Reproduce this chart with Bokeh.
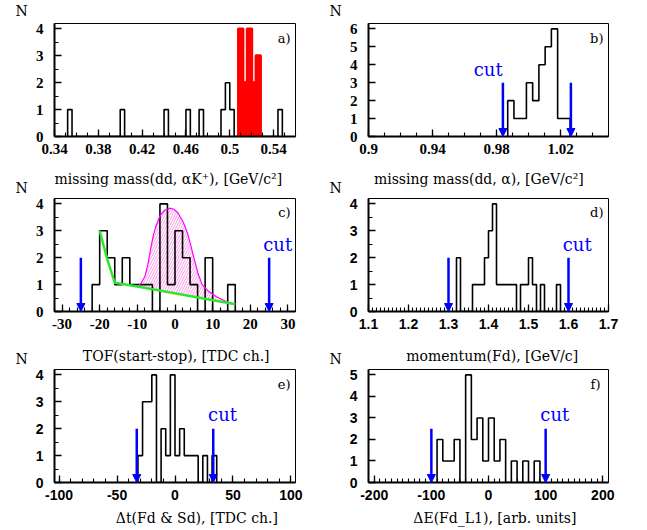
import numpy as np
from bokeh.plotting import figure
from bokeh.layouts import row, column
from bokeh.models import Range1d, FixedTicker, Label, Arrow, NormalHead
from bokeh.embed import file_html
from bokeh.resources import INLINE

# ---------------- data ----------------
# a) missing mass(dd, alpha K+)
a_bin = 0.004
a_left = [0.352, 0.400, 0.440, 0.460, 0.472, 0.492, 0.496, 0.500, 0.544]
a_count = [1, 1, 1, 1, 1, 1, 2, 1, 1]
a_sig_left = [0.508, 0.512, 0.516, 0.520, 0.524]
a_sig_count = [4, 2, 4, 2, 3]
a_xticks = [0.34, 0.38, 0.42, 0.46, 0.50, 0.54]
a_xlabels = ["0.34", "0.38", "0.42", "0.46", "0.5", "0.54"]
a_yticks = [0, 1, 2, 3, 4]

# b) missing mass(dd, alpha)
b_bin = 0.0039
b_left = [0.9870, 0.9909, 0.9948, 0.9987, 1.0026, 1.0065, 1.0104, 1.0143, 1.0182, 1.0221]
b_count = [2, 1, 1, 3, 2, 4, 5, 6, 1, 1]
b_cuts = [0.984, 1.0265]
b_xticks = [0.90, 0.94, 0.98, 1.02]
b_xlabels = ["0.9", "0.94", "0.98", "1.02"]
b_yticks = [0, 1, 2, 3, 4, 5, 6]

# c) TOF(start-stop)
c_bin = 2
c_left = [-22, -20, -18, -16, -14, -12, -10, -8, -6, -4, -2, 0, 2, 4, 6, 8, 10, 12, 14]
c_count = [1, 3, 2, 1, 2, 1, 1, 1, 0, 4, 1, 3, 2, 1, 0, 2, 0, 0, 1]
c_bkg_x = [-20, -18, -16, -10, 16]
c_bkg_y = [3.0, 1.95, 1.07, 0.93, 0.27]
c_sig_x = [-10, -9, -8, -7.2, -6.5, -5.8, -5, -4, -2.8, -1.4, -0.3, 0.8, 2.2, 3.3,
           4.2, 5.1, 6.1, 7.2, 8.8, 11, 13.3, 16]
c_sig_y = [0.93, 1.05, 1.3, 1.75, 2.3, 2.8, 3.2, 3.55, 3.76, 3.84, 3.8, 3.66, 3.32, 2.92,
           2.45, 1.95, 1.42, 1.0, 0.76, 0.55, 0.39, 0.27]
c_cuts = [-25, 25]
c_xticks = [-30, -20, -10, 0, 10, 20, 30]
c_xlabels = ["-30", "-20", "-10", "0", "10", "20", "30"]
c_yticks = [0, 1, 2, 3, 4]

# d) momentum(Fd)
d_bin = 0.01
d_left = [1.32, 1.36, 1.37, 1.38, 1.39, 1.40, 1.41, 1.42, 1.43, 1.44, 1.45, 1.46,
          1.48, 1.49, 1.50, 1.51, 1.53, 1.57]
d_count = [2, 1, 1, 1, 2, 3, 4, 1, 1, 1, 1, 1, 1, 1, 2, 1, 1, 1]
d_cuts = [1.3, 1.6]
d_xticks = [1.1, 1.2, 1.3, 1.4, 1.5, 1.6, 1.7]
d_xlabels = ["1.1", "1.2", "1.3", "1.4", "1.5", "1.6", "1.7"]
d_yticks = [0, 1, 2, 3, 4]

# e) delta t(Fd & Sd)
e_bin = 4
e_left = [-32, -28, -24, -20, -12, -8, -4, 0, 4, 8, 12, 16, 24, 32]
e_count = [1, 3, 3, 4, 2, 1, 4, 1, 2, 1, 1, 1, 1, 1]
e_cuts = [-33, 33]
e_xticks = [-100, -50, 0, 50, 100]
e_xlabels = ["-100", "-50", "0", "50", "100"]
e_yticks = [0, 1, 2, 3, 4]

# f) delta E(Fd_L1)
f_bin = 10
f_left = [-90, -80, -70, -60, -40, -30, -20, -10, 0, 10, 20, 40, 60, 80]
f_count = [2, 1, 1, 2, 5, 2, 3, 1, 3, 1, 2, 1, 1, 1]
f_cuts = [-100, 100]
f_xticks = [-200, -100, 0, 100, 200]
f_xlabels = ["-200", "-100", "0", "100", "200"]
f_yticks = [0, 1, 2, 3, 4, 5]

# ---------------- layout (page pixels) ----------------
NSTRIP_X = [0, 318]          # narrow strips carrying the "N" labels
NSTRIP_W = [30, 27]
COL_X = [30, 345]            # main columns
COL_W = [288, 300]
FR_L = [54, 368]
FR_W = [241, 240]
FR_H = 113
# per row: (figure top y, border top, border bottom), then title strip height
ROWS = [(0, 23, 27), (195, 3, 27), (366, 3, 27)]
TSTRIP_H = [32, 28, 19]
TOTAL_H = 528
BASE_SHIFT = 0.3             # Bokeh draws "alphabetic" text a bit low; compensate

SERIF = "DejaVu Serif"


def step_path(lefts, counts, w):
    xs, ys = [], []
    prev = None
    for l, c in zip(lefts, counts):
        if prev is None or abs(l - prev) > w * 1e-3:
            if prev is not None:
                xs.append(prev); ys.append(0)
            xs.append(l); ys.append(0)
        xs += [l, l + w]
        ys += [c, c]
        prev = l + w
    xs.append(prev); ys.append(0)
    return xs, ys


def make_panel(col, r, xr, yr, xticks, xlabels, xminor, yticks, yminor, tick_font, tick_size):
    y0, bt, bb = ROWS[r]
    bl = FR_L[col] - COL_X[col]
    br = COL_W[col] - bl - FR_W[col]
    p = figure(width=COL_W[col], height=bt + FR_H + bb, title=None,
               x_range=Range1d(*xr), y_range=Range1d(*yr),
               min_border_left=bl, min_border_right=br,
               min_border_top=bt, min_border_bottom=bb,
               toolbar_location=None, tools="", output_backend="svg")
    p.grid.visible = False
    p.outline_line_color = "black"
    p.outline_line_width = 1
    p.background_fill_color = "white"
    p.border_fill_color = "white"
    p.xaxis.ticker = FixedTicker(ticks=xticks, minor_ticks=xminor)
    p.xaxis.major_label_overrides = {t: s for t, s in zip(xticks, xlabels)}
    p.yaxis.ticker = FixedTicker(ticks=yticks, minor_ticks=yminor)
    for ax in (p.xaxis[0], p.yaxis[0]):
        ax.major_tick_in = 7
        ax.major_tick_out = 0
        ax.minor_tick_in = 4
        ax.minor_tick_out = 0
        ax.major_tick_line_width = 1.3
        ax.minor_tick_line_width = 1.1
        ax.axis_line_width = 2
        ax.major_label_text_font = tick_font
        ax.major_label_text_font_style = "bold"
        ax.major_label_text_font_size = tick_size
        ax.major_label_text_color = "black"
    p.xaxis.major_label_standoff = 7
    p.yaxis.major_label_standoff = 11
    geom = (FR_L[col], y0 + bt, FR_W[col], FR_H)
    return p, geom


def text_strip(w, h):
    s = figure(width=w, height=h, title=None,
               x_range=Range1d(0, w), y_range=Range1d(h, 0),
               min_border_left=0, min_border_right=0, min_border_top=0, min_border_bottom=0,
               x_axis_location=None, y_axis_location=None,
               toolbar_location=None, tools="", output_backend="svg")
    s.grid.visible = False
    s.outline_line_color = None
    s.background_fill_color = "white"
    s.border_fill_color = "white"
    return s


def strip_text(s, origin, px, py, text, size, align="left", color="black"):
    py = py - BASE_SHIFT * size
    s.add_layout(Label(x=px - origin[0], y=py - origin[1], text=text, text_font=SERIF,
                       text_font_size=f"{size}px", text_align=align,
                       text_baseline="alphabetic", text_color=color))


def frame_text(p, geom, px, py, text, size, align="left", color="black"):
    L, T, W, H = geom
    py = py - BASE_SHIFT * size
    p.add_layout(Label(x=px - L, y=(T + H) - py, x_units="screen", y_units="screen",
                       text=text, text_font=SERIF,
                       text_font_size=f"{size}px", text_align=align,
                       text_baseline="alphabetic", text_color=color))


def draw_hist(p, lefts, counts, w):
    xs, ys = step_path(lefts, counts, w)
    p.line(xs, ys, line_color="black", line_width=1.6)


def draw_cuts(p, cuts, top):
    for c in cuts:
        p.add_layout(Arrow(end=NormalHead(size=8, fill_color="#0000ff", line_color="#0000ff",
                                          line_width=1),
                           x_start=c, y_start=top, x_end=c, y_end=0,
                           line_color="#0000ff", line_width=2.5))


sans_t = ("Liberation Sans", "14px")
serif_t = ("Liberation Serif", "15px")

# ---- a ----
pa, ga = make_panel(0, 0, (0.34, 0.56), (0, 4.2), a_xticks, a_xlabels,
                    list(np.round(np.arange(0.34, 0.561, 0.01), 3)), a_yticks,
                    list(np.arange(0, 4.21, 0.5)), *serif_t)
draw_hist(pa, a_left, a_count, a_bin)
pa.quad(left=a_sig_left, right=[l + a_bin for l in a_sig_left], bottom=0, top=a_sig_count,
        fill_color="#ff0000", line_color="#ff0000", line_width=3, line_join="round")

# ---- b ----
pb, gb = make_panel(1, 0, (0.9, 1.05), (0, 6.3), b_xticks, b_xlabels,
                    list(np.round(np.arange(0.9, 1.051, 0.01), 3)), b_yticks, [], *serif_t)
draw_hist(pb, b_left, b_count, b_bin)
draw_cuts(pb, b_cuts, 3.0)

# ---- c ----
pc, gc = make_panel(0, 1, (-32, 32), (0, 4.2), c_xticks, c_xlabels,
                    list(np.arange(-32, 32.1, 2)), c_yticks,
                    list(np.arange(0, 4.21, 0.5)), *serif_t)
hx = c_sig_x + [c_bkg_x[-1], c_bkg_x[-2]]
hy = c_sig_y + [c_bkg_y[-1], c_bkg_y[-2]]
pc.patch(hx, hy, fill_color=None, line_color=None, hatch_pattern="/",
         hatch_color="#ff44dd", hatch_scale=5, hatch_weight=0.7, hatch_alpha=0.8)
draw_hist(pc, c_left, c_count, c_bin)
pc.line(c_sig_x, c_sig_y, line_color="#ff00ff", line_width=1.2)
pc.line(c_bkg_x, c_bkg_y, line_color="#2ee62e", line_width=2.5)
draw_cuts(pc, c_cuts, 2.0)

# ---- d ----
pd_, gd = make_panel(1, 1, (1.1, 1.7), (0, 4.2), d_xticks, d_xlabels,
                     list(np.round(np.arange(1.1, 1.701, 0.01), 3)), d_yticks,
                     list(np.arange(0, 4.21, 0.5)), *sans_t)
draw_hist(pd_, d_left, d_count, d_bin)
draw_cuts(pd_, d_cuts, 2.0)

# ---- e ----
pe, ge = make_panel(0, 2, (-104, 104), (0, 4.2), e_xticks, e_xlabels,
                    list(np.arange(-100, 101, 10)), e_yticks,
                    list(np.arange(0, 4.21, 0.5)), *sans_t)
draw_hist(pe, e_left, e_count, e_bin)
draw_cuts(pe, e_cuts, 2.0)

# ---- f ----
pf, gf = make_panel(1, 2, (-210, 210), (0, 5.25), f_xticks, f_xlabels,
                    list(np.arange(-210, 211, 10)), f_yticks, [], *sans_t)
draw_hist(pf, f_left, f_count, f_bin)
draw_cuts(pf, f_cuts, 2.5)

# ---- texts inside frames ----
frame_text(pa, ga, 290, 41.5, "a)", 13, "right")
frame_text(pb, gb, 603, 41.5, "b)", 13, "right")
frame_text(pc, gc, 290, 216, "c)", 13, "right")
frame_text(pd_, gd, 603, 216, "d)", 13, "right")
frame_text(pe, ge, 290, 388, "e)", 13, "right")
frame_text(pf, gf, 600, 388, "f)", 13, "right")

frame_text(pb, gb, 487.7, 74, "cut", 18, "center", "#0000ff")
frame_text(pc, gc, 277.2, 249, "cut", 18, "center", "#0000ff")
frame_text(pd_, gd, 576.7, 249, "cut", 18, "center", "#0000ff")
frame_text(pe, ge, 222, 419, "cut", 18, "center", "#0000ff")
frame_text(pf, gf, 554.3, 419, "cut", 18, "center", "#0000ff")

# ---- "N" strips ----
n_strips = []
for k in range(2):
    s = text_strip(NSTRIP_W[k], TOTAL_H)
    for base in (15, 192, 363):
        strip_text(s, (NSTRIP_X[k], 0), NSTRIP_X[k] + (15 if k == 0 else 11), base, "N", 14)
    n_strips.append(s)

# ---- axis-title strips ----
titles = [
    ("missing mass(dd, \u03b1K\u207a), [GeV/c\u00b2]", 302, 183,
     "missing mass(dd, \u03b1), [GeV/c\u00b2]", 614, 183),
    ("TOF(start-stop), [TDC ch.]", 287, 359.5,
     "momentum(Fd), [GeV/c]", 607, 359.5),
    ("\u0394t(Fd & Sd), [TDC ch.]", 297, 521.5,
     "\u0394E(Fd_L1), [arb. units]", 605, 521.5),
]
t_strips = [[], []]
for r in range(3):
    y0, bt, bb = ROWS[r]
    sy = y0 + bt + FR_H + bb
    for k in range(2):
        s = text_strip(COL_W[k], TSTRIP_H[r])
        txt, px, py = titles[r][3 * k:3 * k + 3]
        strip_text(s, (COL_X[k], sy), px, py, txt, 14, "right")
        t_strips[k].append(s)

left_col = column(pa, t_strips[0][0], pc, t_strips[0][1], pe, t_strips[0][2])
right_col = column(pb, t_strips[1][0], pd_, t_strips[1][1], pf, t_strips[1][2])
layout = row(n_strips[0], left_col, n_strips[1], right_col)
open("out.html", "w").write(file_html(layout, INLINE, title="histograms"))
